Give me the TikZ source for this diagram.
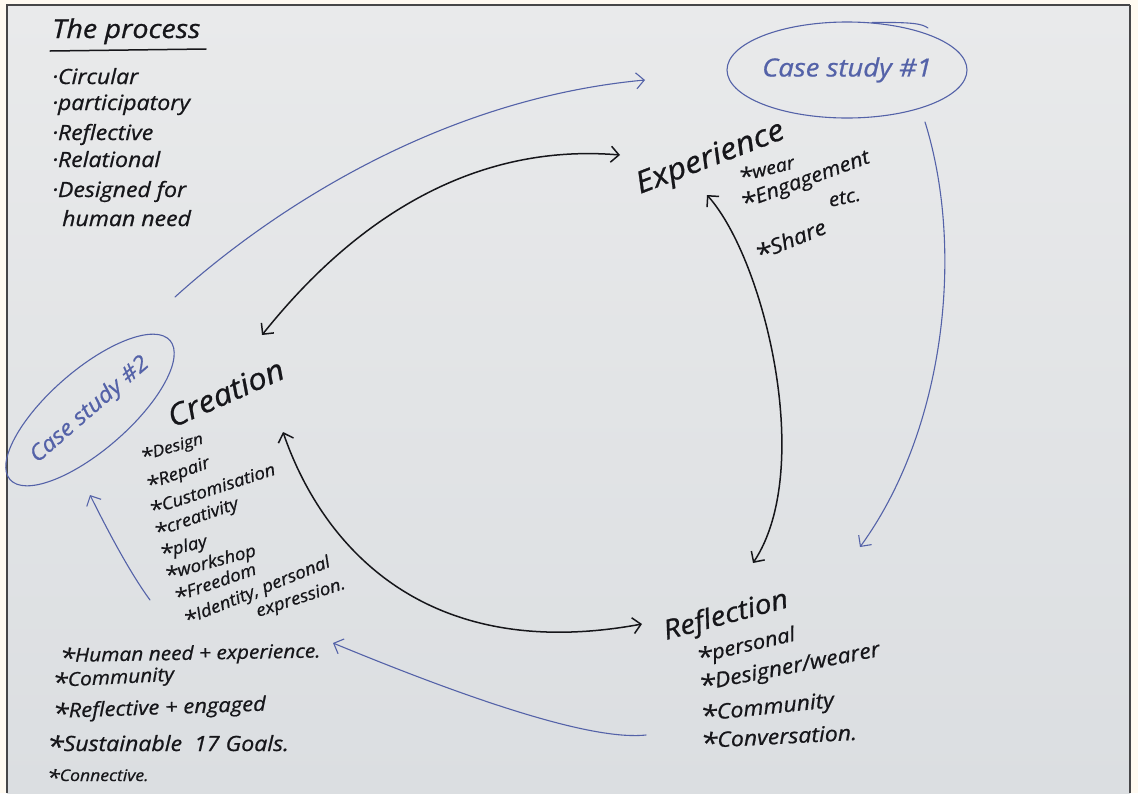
\documentclass[tikz,border=0pt]{standalone}
\usepackage{fontspec}
\setmainfont{Open Sans}[FakeStretch=1.1, FakeBold=0.8]
\usetikzlibrary{arrows.meta,shapes.geometric}

\definecolor{cream}{RGB}{255,250,241}
\definecolor{paperhigh}{RGB}{233,234,235}
\definecolor{paperlow}{RGB}{219,222,225}
\definecolor{ink}{RGB}{22,22,26}
\definecolor{blueink}{RGB}{84,98,168}
\definecolor{edge}{RGB}{70,70,72}

% font size helper: size in pt (1pt = 1 pixel here)
\newcommand{\handsz}[1]{\fontsize{#1}{#1}\selectfont}
% handwritten list star
\newcommand{\starmark}{\raisebox{-0.45ex}{\scalebox{1.3}{*}}}

\tikzset{
  note/.style={anchor=base west, inner sep=0pt, text=ink},
  kconn/.style={draw=ink, line width=1.5pt, line cap=round,
    arrows={Straight Barb[length=8pt,width=16pt]-Straight Barb[length=8pt,width=16pt]}},
  kone/.style={draw=ink, line width=1.5pt, line cap=round},
  bconn/.style={draw=blueink, line width=1.1pt, line cap=round,
    -{Straight Barb[length=8pt,width=16pt]}},
  ring/.style={ellipse, draw=blueink, line width=1.1pt, inner sep=0pt}
}

\begin{document}
\begin{tikzpicture}[x=1pt,y=-1pt]
\useasboundingbox (0,0) rectangle (1138,793);

% sheet of paper on a cream ground
\fill[cream] (0,0) rectangle (1138,793);
\shade[top color=paperhigh, bottom color=paperlow] (7,5) rectangle (1130,793);
\draw[edge, line width=1.6pt] (7,793) -- (7,5) -- (1130,5);
\draw[edge, line width=2.4pt] (1130,5) -- (1130,793);

% heading and bullet list
\node[note, font=\itshape\handsz{26}] (title) at (52,38) {The process};
\draw[kone] (50,51) -- (206,49);
\node[note, font=\itshape\handsz{21}] (b1) at (52,84) {·Circular};
\node[note, font=\itshape\handsz{21}] (b2) at (52,110) {·participatory};
\node[note, font=\itshape\handsz{21}] (b3) at (52,140) {·Reflective};
\node[note, font=\itshape\handsz{21}] (b4) at (52,167) {·Relational};
\node[note, font=\itshape\handsz{21}] (b5) at (52,197) {·Designed for};
\node[note, font=\itshape\handsz{21}] (b6) at (62,226) {human need};

% case study rings
\node[ring, minimum width=234pt, minimum height=96pt,
      text=blueink, font=\itshape\handsz{25}] (cs1) at (847,70) {Case study \#1};
\draw[draw=blueink, line width=1.1pt, line cap=round] (cs1.62) .. controls (915,22) and (922,24) .. (928,28);
\node[ring, rotate=41, minimum width=212pt, minimum height=80pt,
      text=blueink, font=\itshape\handsz{22}] (cs2) at (90,410) {Case study \#2};

% Experience
\node[note, rotate=21, font=\itshape\handsz{30}] (exp) at (640,194) {Experience};
\node[note, rotate=14, font=\itshape\handsz{18}] (e1) at (740,182) {\starmark wear};
\node[note, rotate=20, font=\itshape\handsz{20}] (e2) at (743,209) {\starmark Engagement};
\node[note, rotate=12, font=\itshape\handsz{19}] (e3) at (830,207) {etc.};
\node[note, rotate=22, font=\itshape\handsz{21}] (e4) at (758,261) {\starmark Share};

% Creation
\node[note, rotate=24, font=\itshape\handsz{30}] (cre) at (173,428) {Creation};
\node[note, rotate=16, font=\itshape\handsz{16}] (c1) at (142,461) {\starmark Design};
\node[note, rotate=20, font=\itshape\handsz{17}] (c2) at (148,490) {\starmark Repair};
\node[note, rotate=18, font=\itshape\handsz{17}] (c3) at (151,515) {\starmark Customisation};
\node[note, rotate=19, font=\itshape\handsz{17}] (c4) at (156,537) {\starmark creativity};
\node[note, rotate=14, font=\itshape\handsz{17}] (c5) at (161,558) {\starmark play};
\node[note, rotate=15, font=\itshape\handsz{17}] (c6) at (166,580) {\starmark workshop};
\node[note, rotate=19, font=\itshape\handsz{17}] (c7) at (176,602) {\starmark Freedom};
\node[note, rotate=22, font=\itshape\handsz{17}] (c8) at (186,625) {\starmark Identity, personal};
\node[note, rotate=18, font=\itshape\handsz{17}] (c9) at (258,617) {expression.};

% Reflection
\node[note, rotate=15, font=\itshape\handsz{27}] (ref) at (666,640) {Reflection};
\node[note, rotate=13, font=\itshape\handsz{20}] (r1) at (698,663) {\starmark personal};
\node[note, rotate=11, font=\itshape\handsz{21}] (r2) at (700,691) {\starmark Designer/wearer};
\node[note, rotate=6, font=\itshape\handsz{21}] (r3) at (701,721) {\starmark Community};
\node[note, rotate=3, font=\itshape\handsz{21}] (r4) at (701,748) {\starmark Conversation.};

% values list, bottom left
\node[note, rotate=1, font=\itshape\handsz{19}] (n1) at (60,662) {\starmark Human need + experience.};
\node[note, rotate=3, font=\itshape\handsz{19}] (n2) at (53,687) {\starmark Community};
\node[note, rotate=2, font=\itshape\handsz{20}] (n3) at (53,718) {\starmark Reflective + engaged};
\node[note, font=\itshape\handsz{21}] (n4) at (47,751) {\starmark Sustainable \ 17 Goals.};
\node[note, font=\itshape\handsz{16}] (n5) at (47,781) {\starmark Connective.};

% connector end points
\coordinate (cs2out) at (175,297);
\coordinate (cs1in)  at (645,80);
\coordinate (creTop) at (262,335);
\coordinate (expIn)  at (620,155);
\coordinate (expOut) at (707,195);
\coordinate (refTop) at (753,563);
\coordinate (creLow) at (283,432);
\coordinate (refIn)  at (642,624);
\coordinate (cs1out) at (925,122);
\coordinate (refNE)  at (860,547);
\coordinate (refOut) at (646,735);
\coordinate (valIn)  at (333,643);
\coordinate (valOut) at (150,600);
\coordinate (cs2in)  at (90,495);

% black cycle arrows
\draw[kconn] (creTop) .. controls (322,260) and (440,140) .. (expIn);
\draw[kconn] (expOut) .. controls (765,260) and (815,470) .. (refTop);
\draw[kconn] (creLow) .. controls (320,540) and (420,665) .. (refIn);

% blue case-study arrows
\draw[bconn] (cs2out) .. controls (260,220) and (430,100) .. (cs1in);
\draw[bconn] (cs1out) .. controls (965,250) and (945,430) .. (refNE);
\draw[bconn] (refOut) .. controls (600,740) and (500,712) .. (valIn);
\draw[bconn] (valOut) .. controls (128,570) and (105,525) .. (cs2in);
\end{tikzpicture}
\end{document}
